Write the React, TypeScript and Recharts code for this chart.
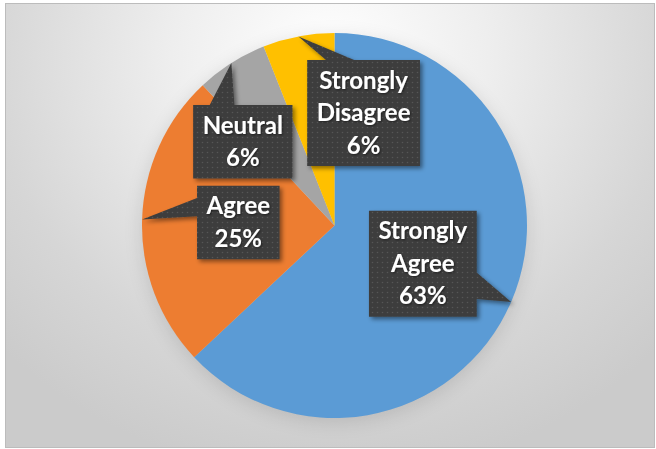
import React from "react";
import { PieChart, Pie, Cell } from "recharts";

// survey answers, share of respondents (%)
const categories = ["Strongly Agree", "Agree", "Neutral", "Strongly Disagree"];
const shares = [63, 25, 6, 6];
const sliceColors = ["#5B9BD5", "#ED7D31", "#A5A5A5", "#FFC000"];

const data = categories.map((name, i) => ({ name, value: shares[i] }));

const W = 656;
const H = 449;
const CX = 334.5;
const CY = 225.5;
const R = 192.5;

// where the callout boxes sit: fraction of the radius + angle (null = middle of the slice)
const boxPlacement: { dist: number; angle: number | null }[] = [
  { dist: 0.5, angle: null },
  { dist: 0.5, angle: null },
  { dist: 0.645, angle: 137.6 },
  { dist: 0.603, angle: 75.5 },
];

const FONT_SIZE = 24;
const FONT_FAMILY = "Lato";
const LINE = 32.5;
const RAD = Math.PI / 180;

let ctx: CanvasRenderingContext2D | null = null;
const measure = (s: string) => {
  if (!ctx) ctx = document.createElement("canvas").getContext("2d");
  if (!ctx) return s.length * FONT_SIZE * 0.5;
  ctx.font = `bold ${FONT_SIZE}px ${FONT_FAMILY}`;
  return ctx.measureText(s).width;
};

// same geometry as the Office "wedgeRectCallout" shape
function calloutPath(x: number, y: number, w: number, h: number, tx: number, ty: number) {
  const hc = x + w / 2;
  const vc = y + h / 2;
  const dx = tx - hc;
  const dy = ty - vc;
  const dq = (dx * h) / w;
  const dz = Math.abs(dy) - Math.abs(dq);
  const x1 = x + (w * (dx > 0 ? 7 : 2)) / 12;
  const x2 = x + (w * (dx > 0 ? 10 : 5)) / 12;
  const y1 = y + (h * (dy > 0 ? 7 : 2)) / 12;
  const y2 = y + (h * (dy > 0 ? 10 : 5)) / 12;
  const r = x + w;
  const b = y + h;
  if (dz > 0) {
    if (dy < 0) return `M${x},${y} L${x1},${y} L${tx},${ty} L${x2},${y} L${r},${y} L${r},${b} L${x},${b} Z`;
    return `M${x},${y} L${r},${y} L${r},${b} L${x2},${b} L${tx},${ty} L${x1},${b} L${x},${b} Z`;
  }
  if (dx < 0) return `M${x},${y} L${r},${y} L${r},${b} L${x},${b} L${x},${y2} L${tx},${ty} L${x},${y1} Z`;
  return `M${x},${y} L${r},${y} L${r},${y1} L${tx},${ty} L${r},${y2} L${r},${b} L${x},${b} Z`;
}

const renderCallout = (props: any) => {
  const { cx, cy, midAngle, outerRadius, percent, index } = props;
  const name: string = props.name ?? props.payload?.name ?? "";
  const place = boxPlacement[index] ?? { dist: 0.5, angle: null };
  const ang = place.angle ?? midAngle;
  const bx = cx + outerRadius * place.dist * Math.cos(-ang * RAD);
  const by = cy + outerRadius * place.dist * Math.sin(-ang * RAD);
  const tx = cx + outerRadius * Math.cos(-midAngle * RAD);
  const ty = cy + outerRadius * Math.sin(-midAngle * RAD);

  const lines = [...name.split(" "), `${Math.round(percent * 100)}%`];
  const w = Math.max(...lines.map(measure)) + 19;
  const h = lines.length * LINE + 8.5;
  const x = bx - w / 2;
  const y = by - h / 2;

  return (
    <g key={`callout-${index}`}>
      <path d={calloutPath(x, y, w, h, tx, ty)} fill="url(#calloutDots)" filter="url(#boxShadow)" />
      <text
        fill="#ffffff"
        fontFamily={FONT_FAMILY}
        fontWeight="bold"
        fontSize={FONT_SIZE}
        textAnchor="middle"
        filter="url(#textShadow)"
      >
        {lines.map((l, i) => (
          <tspan key={i} x={bx} y={y + 28.5 + i * LINE}>
            {l}
          </tspan>
        ))}
      </text>
    </g>
  );
};

export default function App() {
  return (
    <div style={{ position: "absolute", left: 0, top: 0, width: W, height: H, background: "#ffffff", overflow: "hidden" }}>
      <style>{`.pie-shadow { filter: blur(7px); opacity: 0.35; }`}</style>
      <svg width={0} height={0} style={{ position: "absolute" }}>
        <defs>
          <pattern id="calloutDots" width="5" height="5" patternUnits="userSpaceOnUse">
            <rect width="5" height="5" fill="#3d3d3d" />
            <circle cx="2.5" cy="2.5" r="0.8" fill="#575757" />
          </pattern>
          <filter id="boxShadow" x="-20%" y="-20%" width="150%" height="150%">
            <feDropShadow dx="2.5" dy="2.5" stdDeviation="2" floodColor="#000" floodOpacity="0.45" />
          </filter>
          <filter id="textShadow" x="-10%" y="-10%" width="130%" height="130%">
            <feDropShadow dx="1" dy="1" stdDeviation="0.8" floodColor="#000" floodOpacity="0.5" />
          </filter>
        </defs>
      </svg>
      <div
        style={{
          position: "absolute",
          left: 5,
          top: 3,
          width: 648,
          height: 443,
          border: "1px solid #bcbcbc",
          background: "radial-gradient(ellipse 70% 95% at 50% 12%, #ffffff 0%, #eeeeee 35%, #d6d6d6 75%, #cbcbcb 100%)",
        }}
      />
      <div style={{ position: "absolute", left: 0, top: 0 }}>
        <PieChart width={W} height={H} margin={{ top: 0, right: 0, bottom: 0, left: 0 }}>
          <Pie
            className="pie-shadow"
            data={data}
            dataKey="value"
            nameKey="name"
            cx={CX}
            cy={CY + 4}
            outerRadius={R}
            startAngle={90}
            endAngle={-270}
            stroke="none"
            fill="#000000"
            isAnimationActive={false}
            label={false}
            labelLine={false}
          />
          <Pie
            data={data}
            dataKey="value"
            nameKey="name"
            cx={CX}
            cy={CY}
            outerRadius={R}
            startAngle={90}
            endAngle={-270}
            stroke="none"
            isAnimationActive={false}
            labelLine={false}
            label={renderCallout}
          >
            {data.map((d, i) => (
              <Cell key={d.name} fill={sliceColors[i]} />
            ))}
          </Pie>
        </PieChart>
      </div>
    </div>
  );
}
